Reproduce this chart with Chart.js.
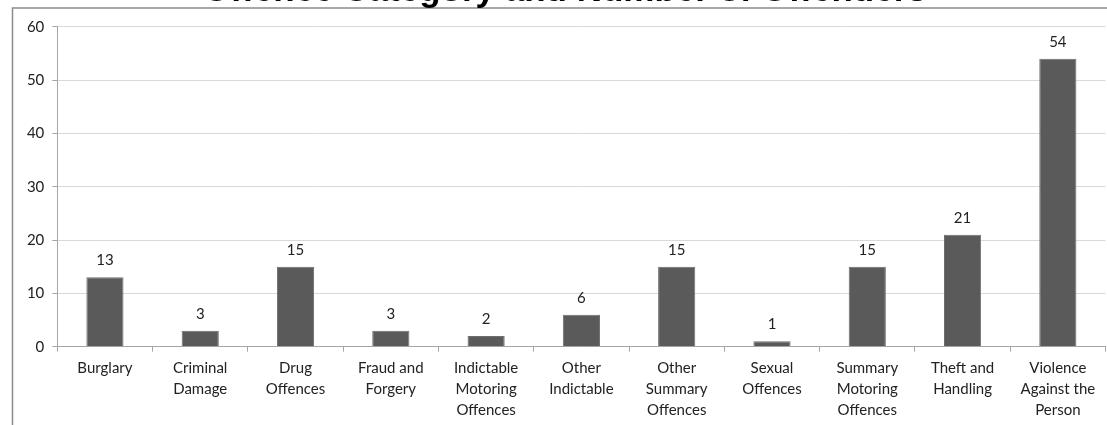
<!DOCTYPE html>
<html>
<head>
<meta charset="utf-8">
<script src="https://cdn.jsdelivr.net/npm/chart.js@4.4.0/dist/chart.umd.min.js"></script>
<style>
  html, body { margin: 0; padding: 0; background: #fff; }
  #wrap { width: 1107px; height: 425px; position: relative; }
</style>
</head>
<body>
<div id="wrap"><canvas id="c" width="1107" height="425"></canvas></div>
<script>
const titleText = "Offence Category and Number of Offenders";
const categories = [
  "Burglary",
  ["Criminal", "Damage"],
  ["Drug", "Offences"],
  ["Fraud and", "Forgery"],
  ["Indictable", "Motoring", "Offences"],
  ["Other", "Indictable"],
  ["Other", "Summary", "Offences"],
  ["Sexual", "Offences"],
  ["Summary", "Motoring", "Offences"],
  ["Theft and", "Handling"],
  ["Violence", "Against the", "Person"]
];
const offenders = [13, 3, 15, 3, 2, 6, 15, 1, 15, 21, 54];
const yTicks = [0, 10, 20, 30, 40, 50, 60];

const frameAndTitle = {
  id: 'frameAndTitle',
  beforeDraw(chart) {
    const ctx = chart.ctx;
    ctx.save();
    ctx.strokeStyle = '#8c8c8c';
    ctx.lineWidth = 1.5;
    ctx.beginPath();
    ctx.moveTo(12.5, 430);
    ctx.lineTo(12.5, 8);
    ctx.lineTo(1110, 8);
    ctx.stroke();
    ctx.restore();
  },
  afterDraw(chart) {
    const ctx = chart.ctx;
    ctx.save();
    ctx.font = 'bold 35px "Liberation Sans", Arial, sans-serif';
    ctx.fillStyle = '#000';
    ctx.textAlign = 'center';
    ctx.textBaseline = 'alphabetic';
    ctx.fillText(titleText, 565, 1);
    ctx.restore();
  }
};

const valueLabels = {
  id: 'valueLabels',
  afterDatasetsDraw(chart) {
    const ctx = chart.ctx;
    const meta = chart.getDatasetMeta(0);
    ctx.save();
    ctx.font = '15px Lato, "Open Sans", sans-serif';
    ctx.fillStyle = '#222';
    ctx.textAlign = 'center';
    ctx.textBaseline = 'middle';
    meta.data.forEach((bar, i) => {
      ctx.fillText(String(chart.data.datasets[0].data[i]), bar.x, bar.y - 17);
    });
    ctx.restore();
  }
};

new Chart(document.getElementById('c'), {
  type: 'bar',
  data: {
    labels: categories,
    datasets: [{
      data: offenders,
      backgroundColor: '#5a5a5a',
      borderColor: '#6e6e6e',
      borderWidth: 1,
      categoryPercentage: 1.0,
      barPercentage: 0.39
    }]
  },
  options: {
    responsive: false,
    animation: false,
    devicePixelRatio: 1,
    layout: { padding: { top: 26.7, right: 1.5, left: 0, bottom: 0 } },
    plugins: {
      legend: { display: false },
      tooltip: { enabled: false },
      title: { display: false }
    },
    scales: {
      x: {
        grid: {
          display: true,
          offset: true,
          drawOnChartArea: false,
          drawTicks: true,
          tickLength: 5,
          tickColor: '#a6a6a6'
        },
        border: { display: true, color: '#a6a6a6', width: 1 },
        ticks: {
          autoSkip: false,
          maxRotation: 0,
          minRotation: 0,
          padding: 6,
          color: '#222',
          font: { family: 'Lato, "Open Sans", sans-serif', size: 15, lineHeight: 1.4 }
        },
        afterFit(scale) { scale.height = 425 - 346.7; }
      },
      y: {
        min: 0,
        max: 60,
        afterBuildTicks(scale) { scale.ticks = yTicks.map(v => ({ value: v })); },
        grid: {
          color: '#d9d9d9',
          drawTicks: true,
          tickLength: 5,
          tickColor: '#a6a6a6'
        },
        border: { display: true, color: '#a6a6a6', width: 1 },
        ticks: {
          padding: 8,
          color: '#222',
          font: { family: 'Lato, "Open Sans", sans-serif', size: 15 }
        },
        afterFit(scale) { scale.width = 57.3; }
      }
    }
  },
  plugins: [frameAndTitle, valueLabels]
});
</script>
</body>
</html>
